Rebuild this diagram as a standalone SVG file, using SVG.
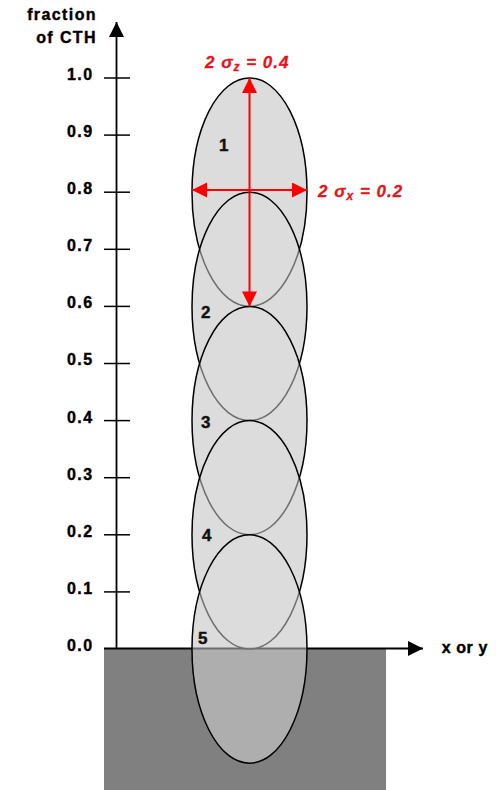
<svg xmlns="http://www.w3.org/2000/svg" width="498" height="790" viewBox="0 0 498 790">
<style>
.lab{font-family:"Liberation Sans",Arial,sans-serif;font-weight:bold;font-size:16px;letter-spacing:1.4px;fill:#000;stroke:#000;stroke-width:0.4;text-anchor:end}
.num{font-family:"Liberation Sans",Arial,sans-serif;font-weight:bold;font-size:17px;fill:#111;stroke:#111;stroke-width:0.4}
.red{font-family:"Liberation Sans",Arial,sans-serif;font-weight:bold;font-style:italic;font-size:17px;fill:#e3141b;stroke:#e3141b;stroke-width:0.3;letter-spacing:1px}
.ell{fill:#dcdcdc;fill-opacity:0.5;stroke:#000;stroke-width:1.5}
.tick{stroke:#000;stroke-width:1.5}
</style>
<defs>
<marker id="ah" markerUnits="userSpaceOnUse" markerWidth="16" markerHeight="16" refX="15" refY="7.5" orient="auto-start-reverse"><path d="M0,0 L15,7.5 L0,15 z" fill="#000"/></marker>
<marker id="rh" markerUnits="userSpaceOnUse" markerWidth="16" markerHeight="16" refX="15" refY="7.5" orient="auto-start-reverse"><path d="M0,0 L15,7.5 L0,15 z" fill="#ff0000"/></marker>
</defs>
<rect width="498" height="790" fill="#fff"/>
<g fill="#dcdcdc">
<ellipse cx="249.5" cy="192.2" rx="57.5" ry="114.2"/>
<ellipse cx="249.5" cy="306.4" rx="57.5" ry="114.2"/>
<ellipse cx="249.5" cy="420.6" rx="57.5" ry="114.2"/>
<ellipse cx="249.5" cy="534.8" rx="57.5" ry="114.2"/>
<ellipse cx="249.5" cy="649" rx="57.5" ry="114.2"/>
</g>
<rect id="ground" x="104" y="648" width="282" height="142" fill="#808080"/>
<g id="axes">
<line x1="104" y1="648.5" x2="423" y2="648.5" stroke="#000" stroke-width="1.8" marker-end="url(#ah)"/>
<line x1="116.5" y1="648.5" x2="116.5" y2="22" stroke="#000" stroke-width="1.8" marker-end="url(#ah)"/>
<line class="tick" x1="104" y1="78" x2="130" y2="78"/>
<line class="tick" x1="104" y1="135.1" x2="130" y2="135.1"/>
<line class="tick" x1="104" y1="192.2" x2="130" y2="192.2"/>
<line class="tick" x1="104" y1="249.3" x2="130" y2="249.3"/>
<line class="tick" x1="104" y1="306.4" x2="130" y2="306.4"/>
<line class="tick" x1="104" y1="363.5" x2="130" y2="363.5"/>
<line class="tick" x1="104" y1="420.6" x2="130" y2="420.6"/>
<line class="tick" x1="104" y1="477.7" x2="130" y2="477.7"/>
<line class="tick" x1="104" y1="534.8" x2="130" y2="534.8"/>
<line class="tick" x1="104" y1="591.9" x2="130" y2="591.9"/>
<text class="lab" x="97" y="20">fraction</text>
<text class="lab" x="97" y="43">of CTH</text>
<text class="lab" x="93.5" y="80">1.0</text>
<text class="lab" x="93.5" y="137">0.9</text>
<text class="lab" x="93.5" y="194">0.8</text>
<text class="lab" x="93.5" y="251">0.7</text>
<text class="lab" x="93.5" y="308">0.6</text>
<text class="lab" x="93.5" y="365">0.5</text>
<text class="lab" x="93.5" y="423">0.4</text>
<text class="lab" x="93.5" y="480">0.3</text>
<text class="lab" x="93.5" y="537">0.2</text>
<text class="lab" x="93.5" y="594">0.1</text>
<text class="lab" x="93.5" y="651">0.0</text>
<text class="lab" x="488" y="653" style="letter-spacing:0.6px">x or y</text>
</g>
<g id="puff1"><ellipse class="ell" cx="249.5" cy="192.2" rx="57.5" ry="114.2"/><text class="num" x="219" y="151">1</text></g>
<g id="puff2"><ellipse class="ell" cx="249.5" cy="306.4" rx="57.5" ry="114.2"/><text class="num" x="201" y="318">2</text></g>
<g id="puff3"><ellipse class="ell" cx="249.5" cy="420.6" rx="57.5" ry="114.2"/><text class="num" x="201" y="428">3</text></g>
<g id="puff4"><ellipse class="ell" cx="249.5" cy="534.8" rx="57.5" ry="114.2"/><text class="num" x="202" y="541">4</text></g>
<g id="puff5"><ellipse class="ell" cx="249.5" cy="649" rx="57.5" ry="114.2"/><text class="num" x="198" y="644">5</text></g>
<g id="connectors">
<line x1="249.5" y1="78" x2="249.5" y2="306.4" stroke="#ff0000" stroke-width="2" marker-start="url(#rh)" marker-end="url(#rh)"/>
<line x1="192" y1="190" x2="307" y2="190" stroke="#ff0000" stroke-width="2" marker-start="url(#rh)" marker-end="url(#rh)"/>
</g>
<g id="labels">
<text class="red" x="205" y="68">2 σ<tspan font-size="12" dy="3">z</tspan><tspan dy="-3"> = 0.4</tspan></text>
<text class="red" x="318" y="197">2 σ<tspan font-size="12" dy="3">x</tspan><tspan dy="-3"> = 0.2</tspan></text>
</g>
</svg>
